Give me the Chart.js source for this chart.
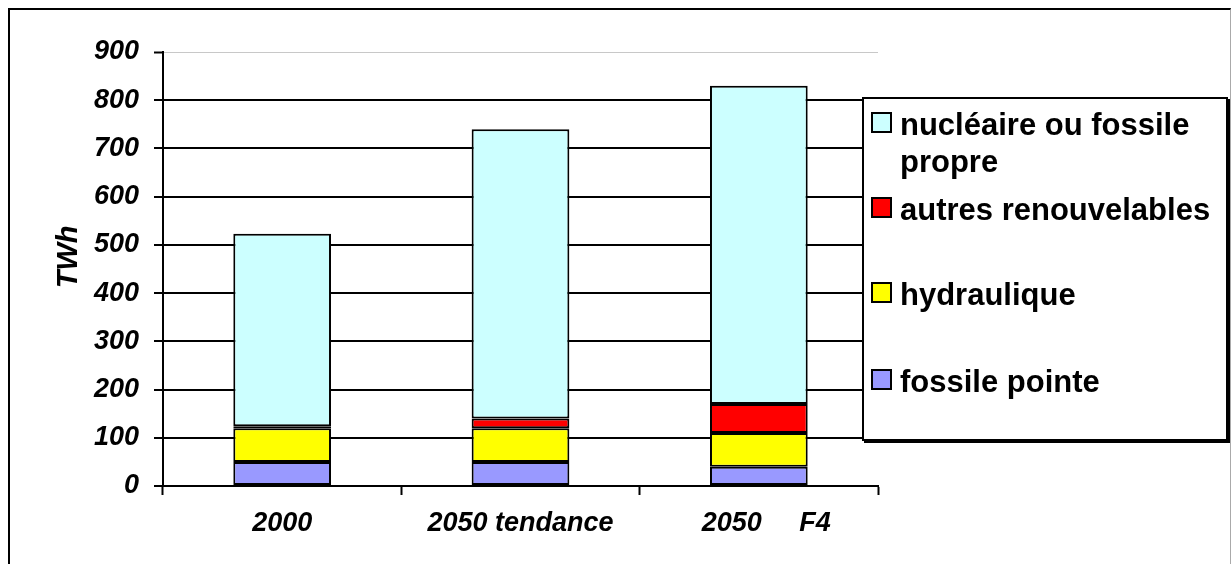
<!DOCTYPE html>
<html>
<head>
<meta charset="utf-8">
<script src="https://cdn.jsdelivr.net/npm/chart.js@4"></script>
<style>
  html, body { margin: 0; padding: 0; background: #fff; }
  body { width: 1231px; height: 564px; position: relative; overflow: hidden; font-family: "Liberation Sans", Arial, sans-serif; }
  .frame {
    position: absolute; left: 8px; top: 8px; width: 1220px; height: 600px;
    border-left: 2px solid #000; border-top: 2px solid #000; border-right: 1px solid #aaa;
  }
  .chart-box { position: absolute; left: 0; top: 0; width: 1231px; height: 564px; }
  .legend {
    position: absolute; left: 862px; top: 97px; width: 362px; height: 340px;
    background: #fff; border: 2px solid #000; box-shadow: 2px 2px 0 #000;
    font-weight: bold; font-size: 31px; line-height: 37px; color: #000;
  }
  .legend .item { position: absolute; left: 7px; right: 0; display: flex; align-items: flex-start; white-space: normal; }
  .legend .sw { flex: none; width: 17px; height: 17px; border: 2px solid #000; margin-top: 6px; margin-right: 8px; }
</style>
</head>
<body>
<div class="frame"></div>
<div class="chart-box"><canvas id="chart" width="1231" height="564"></canvas></div>
<div class="legend" id="legend"></div>
<script>
const categories = ['2000', '2050 tendance', '  2050     F4'];
const fossilePointe = [50, 50, 40];
const hydraulique = [70, 70, 70];
const autresRenouvelables = [4, 20, 60];
const nucleaireFossile = [399, 600, 660];
const yTicks = [0, 100, 200, 300, 400, 500, 600, 700, 800, 900];

const series = [
  { label: 'fossile pointe', data: fossilePointe, color: '#9999ff' },
  { label: 'hydraulique', data: hydraulique, color: '#ffff00' },
  { label: 'autres renouvelables', data: autresRenouvelables, color: '#ff0000' },
  { label: 'nucléaire ou fossile propre', data: nucleaireFossile, color: '#ccffff' }
];

const font = 'Liberation Sans';

const chart = new Chart(document.getElementById('chart'), {
  type: 'bar',
  data: {
    labels: categories,
    datasets: series.map(s => ({
      label: s.label,
      data: s.data,
      backgroundColor: s.color,
      borderColor: '#000',
      borderWidth: 2,
      borderSkipped: false,
      categoryPercentage: 1,
      barPercentage: 0.41
    }))
  },
  options: {
    responsive: false,
    animation: false,
    layout: { padding: { left: 52, right: 353, top: 52, bottom: 0 } },
    plugins: { legend: { display: false }, tooltip: { enabled: false } },
    scales: {
      x: {
        stacked: true,
        border: { color: '#000', width: 2 },
        grid: { drawOnChartArea: false, offset: true, tickLength: 9, tickColor: '#000', tickWidth: 2 },
        ticks: { color: '#000', padding: 12, font: { family: font, size: 27, weight: 'bold', style: 'italic' } },
        afterFit: s => { s.height = 78; }
      },
      y: {
        stacked: true,
        min: 0,
        max: 900,
        afterBuildTicks: s => { s.ticks = yTicks.map(v => ({ value: v })); },
        border: { color: '#000', width: 2 },
        grid: {
          color: c => (c.tick && c.tick.value === 900) ? '#c8c8c8' : '#000',
          lineWidth: c => (c.tick && c.tick.value === 900) ? 1 : 2,
          tickColor: '#000', tickWidth: 2, tickLength: 9
        },
        ticks: { color: '#000', padding: 15, font: { family: font, size: 27, weight: 'bold', style: 'italic' } },
        title: {
          display: true, text: '   TWh', color: '#000', padding: { top: 0, bottom: 0 },
          font: { family: font, size: 29, weight: 'bold', style: 'italic' }
        },
        afterFit: s => { s.width = 111; }
      }
    }
  }
});

// legend built from the chart's datasets, top entry first
const legendTops = [7, 92, 177, 264];
const legendEl = document.getElementById('legend');
chart.data.datasets.slice().reverse().forEach((ds, i) => {
  const item = document.createElement('div');
  item.className = 'item';
  item.style.top = legendTops[i] + 'px';
  const sw = document.createElement('span');
  sw.className = 'sw';
  sw.style.background = ds.backgroundColor;
  const txt = document.createElement('span');
  txt.textContent = ds.label;
  item.appendChild(sw);
  item.appendChild(txt);
  legendEl.appendChild(item);
});
</script>
</body>
</html>
